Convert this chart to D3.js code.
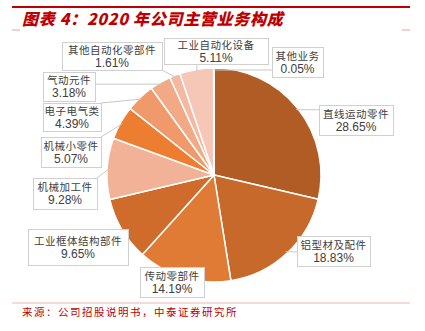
<!DOCTYPE html>
<html>
<head>
<meta charset="utf-8">
<script src="https://cdn.jsdelivr.net/npm/d3@7"></script>
<style>
  html, body { margin: 0; padding: 0; background: #fff; }
  svg { display: block; }
</style>
</head>
<body>
<svg id="chart" width="425" height="331"></svg>
<script>
// ---- data ----
const categories = ["直线运动零件", "铝型材及配件", "传动零部件", "工业框体结构部件", "机械加工件",
  "机械小零件", "电子电气类", "气动元件", "其他自动化零部件", "工业自动化设备", "其他业务"];
const values = [28.65, 18.83, 14.19, 9.65, 9.28, 5.07, 4.39, 3.18, 1.61, 5.11, 0.05];
const valueLabels = ["28.65%", "18.83%", "14.19%", "9.65%", "9.28%", "5.07%", "4.39%", "3.18%", "1.61%", "5.11%", "0.05%"];
const sliceColors = ["#B05C24", "#C8692C", "#E07B35", "#CF6C2B", "#F2B297",
  "#ED7D31", "#F09A6C", "#F2A985", "#F4B9A0", "#F6C7B6", "#F4A582"];
const titleText = "图表 4：2020 年公司主营业务构成";
const sourceText = "来源：公司招股说明书，中泰证券研究所";

// ---- layout (label box positions: x, y, w, h) ----
const labelBoxes = [
  [319, 105, 74, 30],
  [297, 236, 73, 30],
  [140, 267, 64, 30],
  [28, 229, 100, 36],
  [33, 178, 64, 31],
  [41, 137, 60, 30],
  [43, 103, 58, 28],
  [43, 72, 52, 29],
  [62, 42, 100, 28],
  [164, 38, 104, 26],
  [272, 47, 51, 30]
];

const svg = d3.select("#chart");
const cx = 214, cy = 175, R = 107;

// header rule
svg.append("line").attr("x1", 12).attr("x2", 410).attr("y1", 7).attr("y2", 7)
  .attr("stroke", "#C00000").attr("stroke-width", 2);
// small tick marks
[[12, 20], [402, 410]].forEach(([a, b]) => {
  svg.append("line").attr("x1", a).attr("x2", b).attr("y1", 30).attr("y2", 30)
    .attr("stroke", "#E8A0A0").attr("stroke-width", 1);
});

// title
svg.append("text").attr("x", 22).attr("y", 25)
  .attr("fill", "#C00000")
  .attr("font-family", "'Noto Sans CJK SC', sans-serif")
  .attr("font-weight", "900").attr("font-style", "italic")
  .attr("font-size", 16)
  .attr("letter-spacing", 0.7)
  .text(titleText);

// pie
const pie = d3.pie().sort(null).value(d => d)(values);
const arc = d3.arc().innerRadius(0).outerRadius(R);
const g = svg.append("g").attr("transform", `translate(${cx},${cy})`);
g.selectAll("path").data(pie).join("path")
  .attr("d", arc)
  .attr("fill", (d, i) => sliceColors[i])
  .attr("stroke", "#fff").attr("stroke-width", 1.5).attr("stroke-linejoin", "round");

// leader lines + label boxes
const lab = svg.append("g");
pie.forEach((d, i) => {
  const [bx, by, bw, bh] = labelBoxes[i];
  const a = (d.startAngle + d.endAngle) / 2;
  const px = cx + Math.sin(a) * (R - 2);
  const py = cy - Math.cos(a) * (R - 2);
  const qx = Math.max(bx, Math.min(bx + bw, px));
  const qy = Math.max(by, Math.min(by + bh, py));
  if (Math.hypot(px - qx, py - qy) > 3) {
    lab.append("line").attr("x1", qx).attr("y1", qy).attr("x2", px).attr("y2", py)
      .attr("stroke", "#C8C8C8").attr("stroke-width", 1);
  }
});
pie.forEach((d, i) => {
  const [bx, by, bw, bh] = labelBoxes[i];
  lab.append("rect").attr("x", bx + 0.5).attr("y", by + 0.5).attr("width", bw).attr("height", bh)
    .attr("fill", "#fff").attr("stroke", "#D0D0D0").attr("stroke-width", 1);
  const mx = bx + bw / 2, my = by + bh / 2;
  lab.append("text").attr("x", mx).attr("y", my - 2.5)
    .attr("text-anchor", "middle")
    .attr("font-family", "'Noto Sans CJK SC', sans-serif").attr("font-size", 10.5)
    .attr("fill", "#404040").attr("letter-spacing", 0.5)
    .text(categories[i]);
  lab.append("text").attr("x", mx).attr("y", my + 10.5)
    .attr("text-anchor", "middle")
    .attr("font-family", "'Liberation Sans', Arial, sans-serif").attr("font-size", 12)
    .attr("fill", "#404040")
    .text(valueLabels[i]);
});

// footer rule
svg.append("line").attr("x1", 12).attr("x2", 410).attr("y1", 303).attr("y2", 303)
  .attr("stroke", "#EBB5B5").attr("stroke-width", 1);
svg.append("text").attr("x", 22).attr("y", 316)
  .attr("fill", "#C00000")
  .attr("font-family", "'Noto Sans CJK SC', sans-serif")
  .attr("font-size", 10.5)
  .attr("letter-spacing", 1.5)
  .text(sourceText);
</script>
</body>
</html>
